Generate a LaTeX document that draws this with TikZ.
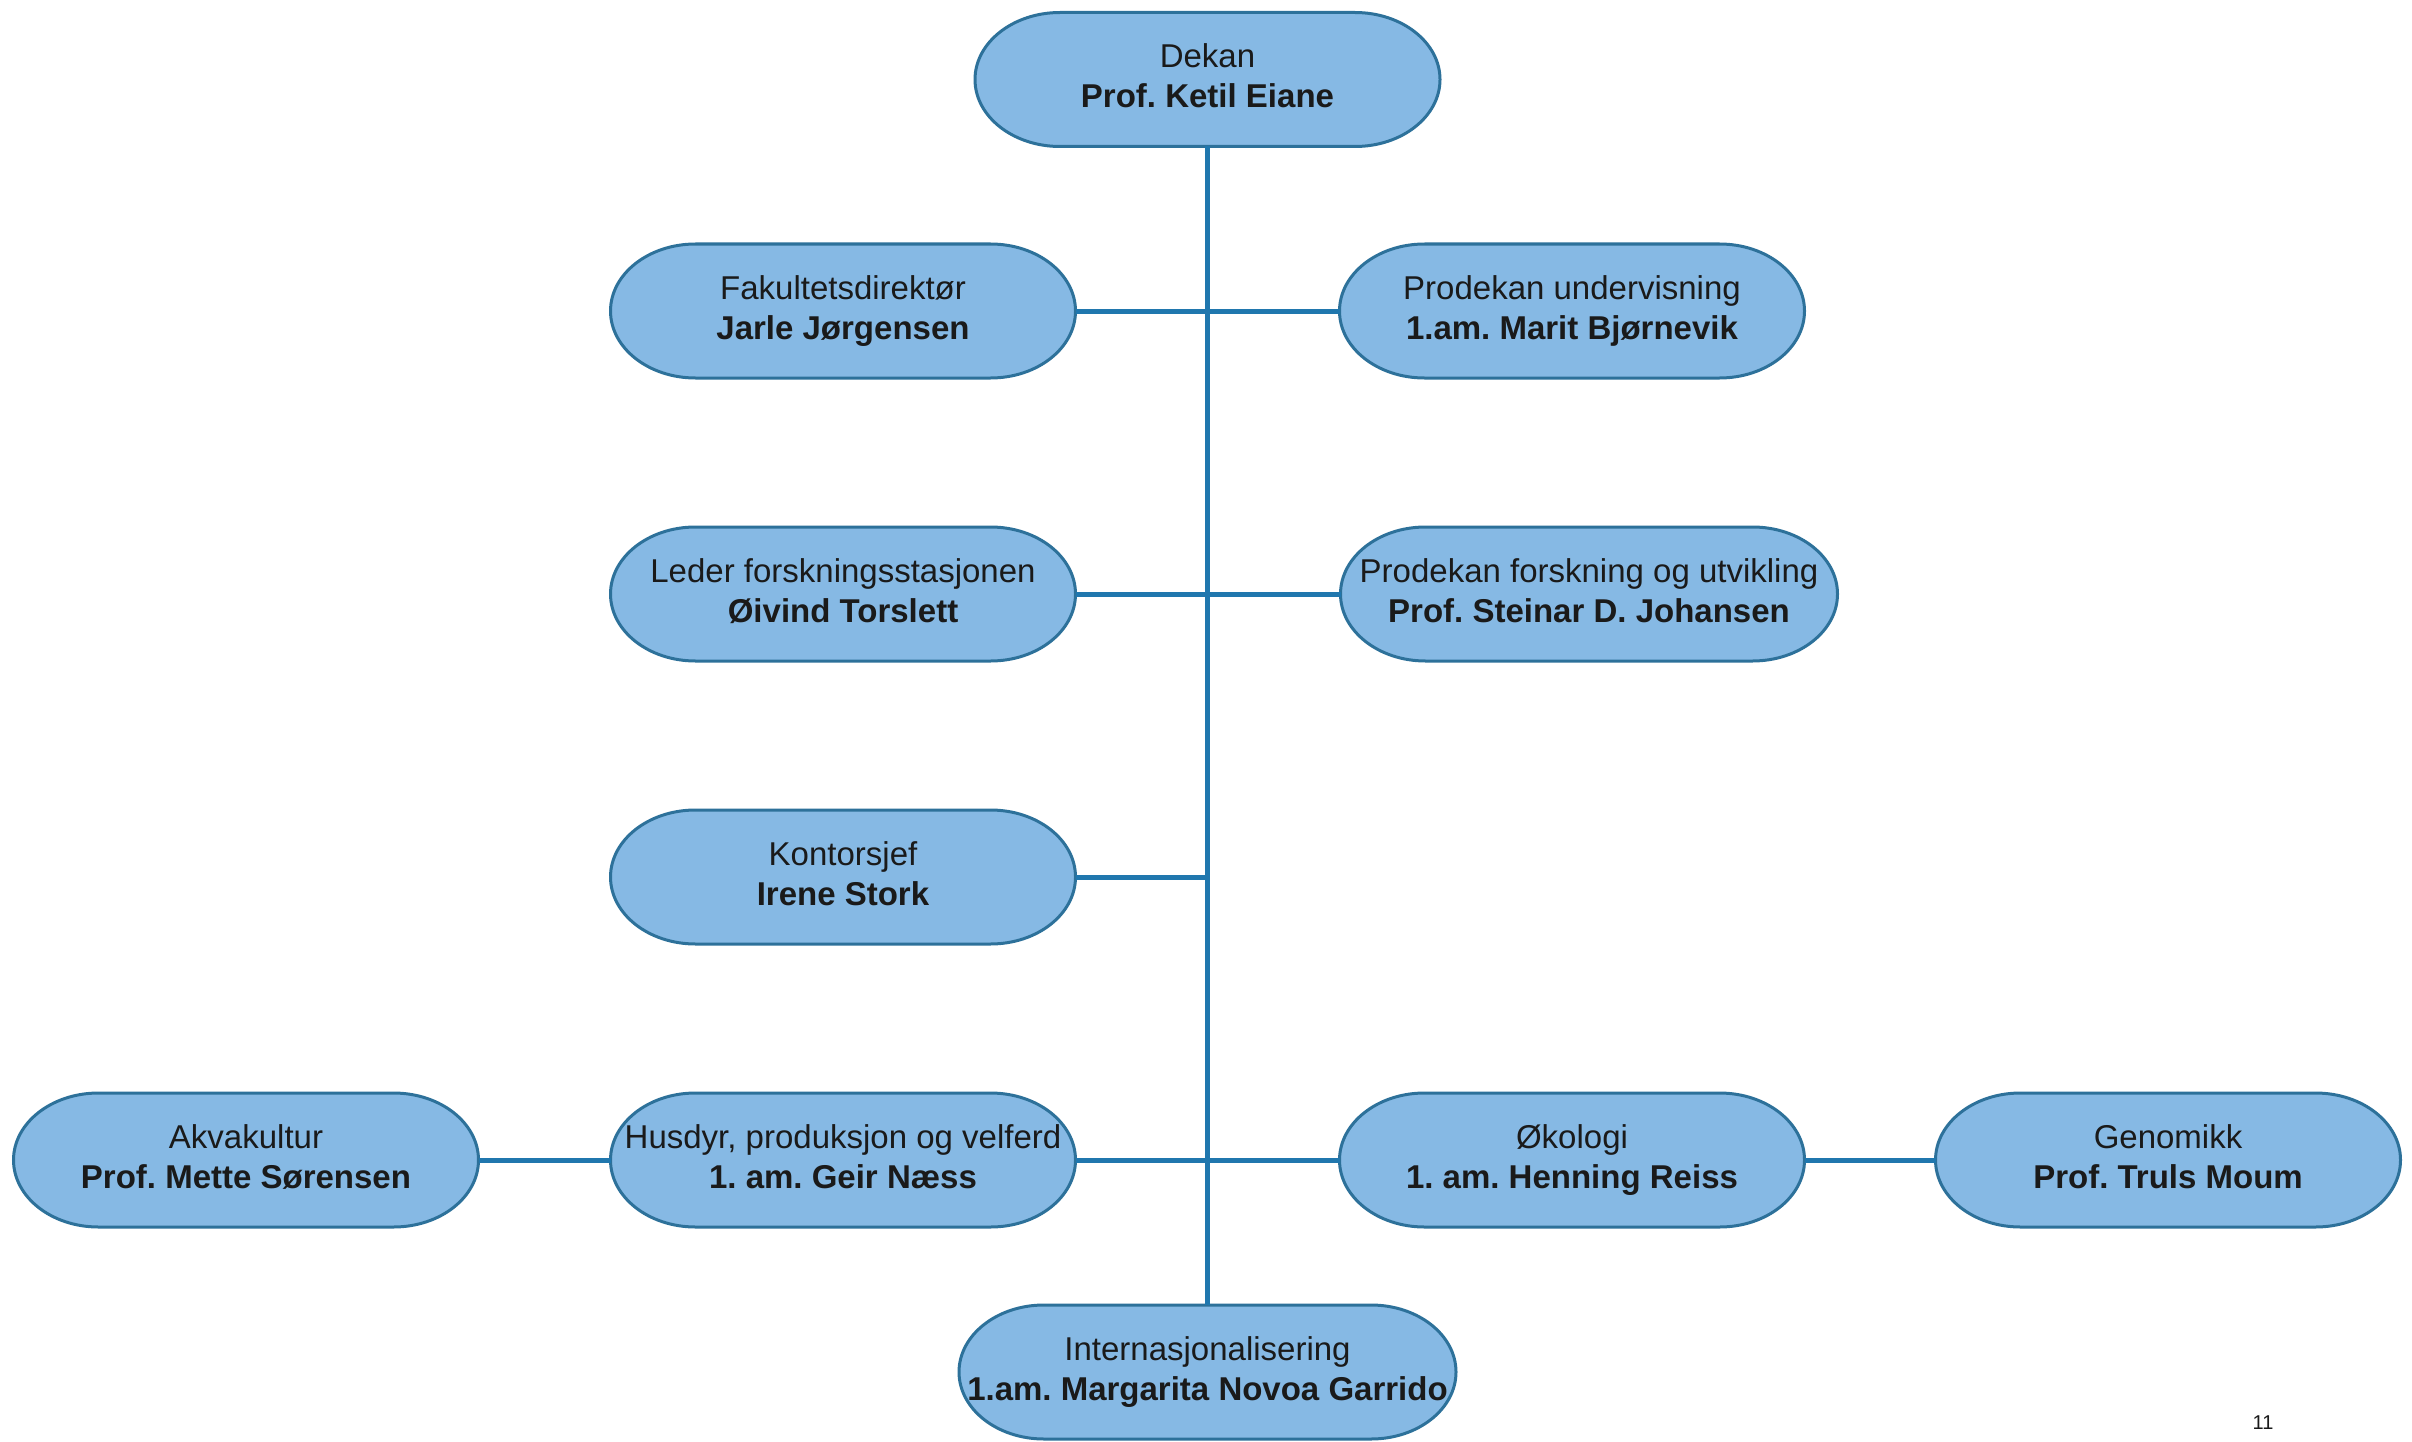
\documentclass[tikz,border=0pt]{standalone}
\usepackage{fontspec}
\setmainfont{Liberation Sans}
\usetikzlibrary{calc}
\pgfdeclarelayer{paper}
\pgfdeclarelayer{shapes}
\pgfsetlayers{paper,shapes,main}
\definecolor{boxfill}{HTML}{86B9E4}
\definecolor{boxline}{HTML}{2D719A}
\definecolor{conn}{HTML}{2077AE}
\definecolor{txt}{HTML}{1A1A1A}
\newcommand{\boxfont}{\fontsize{33pt}{40pt}\selectfont\frenchspacing}
\begin{document}
\begin{tikzpicture}[x=1pt,y=-1pt,
  orgbox/.style={minimum width=465pt, minimum height=134pt, inner sep=0pt, outer sep=0pt,
    align=center, font=\boxfont, text=txt},
  widebox/.style={orgbox, minimum width=497pt},
  pill/.style={draw=boxline, line width=3pt, fill=boxfill},
  link/.style={draw=conn, line width=5pt}]
\begin{pgfonlayer}{paper}
\useasboundingbox[fill=white] (0,0) rectangle (2412,1442);
\end{pgfonlayer}
% nodes
\node[orgbox] (dekan) at (1207.5,79.5) {\strut Dekan\\\strut\textbf{Prof. Ketil Eiane}};
\node[orgbox] (fak) at (843,311) {\strut Fakultetsdirektør\\\strut\textbf{Jarle Jørgensen}};
\node[orgbox] (prou) at (1572,311) {\strut Prodekan undervisning\\\strut\textbf{1.am. Marit Bjørnevik}};
\node[orgbox] (leder) at (843,594) {\strut Leder forskningsstasjonen\\\strut\textbf{Øivind Torslett}};
\node[widebox] (prof) at (1589,594) {\strut Prodekan forskning og utvikling\\\strut\textbf{Prof. Steinar D. Johansen}};
\node[orgbox] (kont) at (843,877) {\strut Kontorsjef\\\strut\textbf{Irene Stork}};
\node[orgbox] (akva) at (246,1160) {\strut Akvakultur\\\strut\textbf{Prof. Mette Sørensen}};
\node[orgbox] (husd) at (843,1160) {\strut Husdyr, produksjon og velferd\\\strut\textbf{1. am. Geir Næss}};
\node[orgbox] (oko) at (1572,1160) {\strut Økologi\\\strut\textbf{1. am. Henning Reiss}};
\node[orgbox] (geno) at (2168,1160) {\strut Genomikk\\\strut\textbf{Prof. Truls Moum}};
\node[widebox] (intl) at (1207.5,1372) {\strut Internasjonalisering\\\strut\textbf{1.am. Margarita Novoa Garrido}};
\node[font=\fontsize{20pt}{24pt}\selectfont, text=txt] (page) at (2263,1423) {11};
\coordinate (j3) at (1207.5,877);
% pill outlines with half-elliptic ends
\begin{pgfonlayer}{shapes}
\foreach \n in {dekan,fak,prou,leder,prof,kont,akva,husd,oko,geno,intl}{
  \draw[pill] ($(\n.north west)+(85,0)$) -- ($(\n.north east)+(-85,0)$)
    arc[start angle=90,end angle=-90,x radius=85pt,y radius=67pt]
    -- ($(\n.south west)+(85,0)$)
    arc[start angle=270,end angle=90,x radius=85pt,y radius=67pt] -- cycle;
}
\end{pgfonlayer}
% connectors
\draw[link] (dekan.south) -- (intl.north);
\draw[link] (fak.east) -- (prou.west);
\draw[link] (leder.east) -- (prof.west);
\draw[link] (kont.east) -- (j3);
\draw[link] (akva.east) -- (husd.west);
\draw[link] (husd.east) -- (oko.west);
\draw[link] (oko.east) -- (geno.west);
\end{tikzpicture}
\end{document}
